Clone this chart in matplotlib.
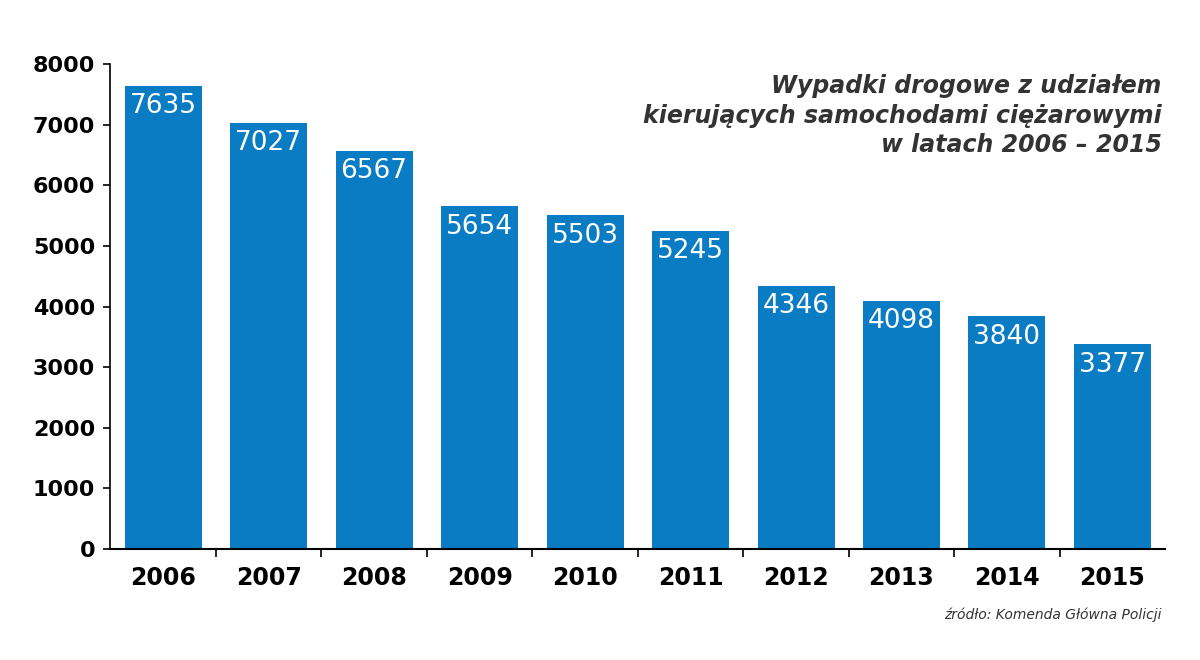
import matplotlib as mpl, matplotlib.pyplot as plt
mpl.rcParams.update({'font.family':'DejaVu Sans'})

years=['2006','2007','2008','2009','2010','2011','2012','2013','2014','2015']
values=[7635,7027,6567,5654,5503,5245,4346,4098,3840,3377]
yticks=[0,1000,2000,3000,4000,5000,6000,7000,8000]
BLUE='#0a7cc4'

fig=plt.figure(figsize=(12,6.6),dpi=100)
ax=fig.add_axes([0.092,0.168,0.879,0.735])
x=range(len(years))
ax.bar(x,values,width=0.73,color=BLUE)
for i,v in zip(x,values):
    ax.text(i,v-120,str(v),color='white',fontsize=19,ha='center',va='top')
ax.set_xlim(-0.5,len(years)-0.5); ax.set_ylim(0,8000)
ax.set_yticks(yticks); ax.set_yticklabels([str(t) for t in yticks],fontsize=16,fontweight='bold')
ax.set_xticks([i+0.5 for i in range(len(years)-1)],minor=False)
ax.set_xticklabels([])
ax.set_xticks(list(x),minor=True); ax.set_xticklabels(years,minor=True,fontsize=17,fontweight='bold')
ax.tick_params(axis='x',which='minor',length=0,pad=12)
ax.tick_params(axis='x',which='major',length=6,width=1.2)
ax.tick_params(axis='y',length=5,width=1.2,pad=6)
for s in ['top','right']: ax.spines[s].set_visible(False)
ax.spines['left'].set_linewidth(1.2); ax.spines['bottom'].set_linewidth(1.5)
fig.text(0.968,0.888,'Wypadki drogowe z udziałem\nkierujących samochodami ciężarowymi\nw latach 2006 – 2015',
         ha='right',va='top',fontsize=17,fontweight='bold',fontstyle='italic',color='#333333',linespacing=1.3)
fig.text(0.968,0.068,'źródło: Komenda Główna Policji',ha='right',va='center',fontsize=10,fontstyle='italic',color='#333333')
fig.savefig('out.png',dpi=100)
